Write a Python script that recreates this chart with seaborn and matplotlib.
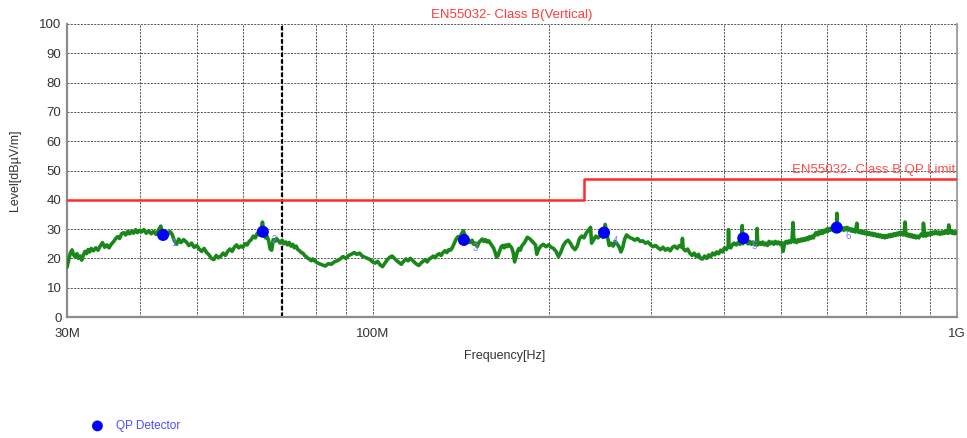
import matplotlib
matplotlib.use("Agg")
import matplotlib.pyplot as plt
import matplotlib.ticker as mticker
import seaborn as sns
import pandas as pd

freq_mhz = [
    30.0, 30.2, 30.4, 30.6, 30.8, 31.0, 31.2, 31.4, 31.6, 31.8, 32.0, 32.2, 32.4, 32.6, 32.8,
    33.0, 33.3, 33.6, 33.9, 34.2, 34.5, 34.8, 35.1, 35.4, 35.7, 36.0, 36.3, 36.6, 36.9, 37.2,
    37.5, 37.8, 38.1, 38.4, 38.7, 39.0, 39.3, 39.6, 39.9, 40.2, 40.6, 41.0, 41.4, 41.8, 42.2,
    42.6, 43.0, 43.4, 43.8, 44.2, 44.6, 45.0, 45.4, 45.8, 46.2, 46.6, 47.0, 47.5, 48.0, 48.5,
    49.0, 49.5, 50.0, 50.5, 51.0, 51.5, 52.0, 52.5, 53.0, 53.5, 54.0, 54.5, 55.0, 55.5, 56.0,
    56.5, 57.0, 57.5, 58.0, 58.5, 59.0, 59.5, 60.0, 60.5, 61.0, 61.5, 62.0, 62.5, 63.0, 63.5,
    64.0, 64.5, 64.8, 65.2, 65.6, 66.0, 66.4, 66.8, 67.2, 67.6, 68.0, 68.5, 69.0, 69.5, 70.0,
    70.5, 71.0, 71.5, 72.0, 72.5, 73.0, 73.5, 74.0, 74.5, 75.0, 75.5, 76.0, 76.5, 77.0, 77.5,
    78.0, 78.5, 79.0, 80.0, 81.0, 82.0, 83.0, 84.0, 85.0, 86.0, 87.0, 88.0, 89.0, 90.0, 91.0,
    92.0, 93.0, 94.0, 95.0, 96.0, 97.0, 98.0, 99.0, 100.0, 101.0, 102.0, 103.0, 104.0, 105.0,
    106.0, 107.0, 108.0, 109.0, 110.0, 111.0, 112.0, 113.0, 114.0, 115.0, 116.0, 117.0, 118.0,
    119.0, 120.0, 121.0, 122.0, 123.0, 124.0, 125.0, 126.0, 127.0, 128.0, 129.0, 130.0, 131.0,
    132.0, 133.0, 134.0, 135.0, 136.0, 137.0, 138.0, 139.0, 140.0, 141.0, 142.0, 143.0, 144.0,
    145.0, 146.0, 147.0, 148.0, 149.0, 150.0, 151.0, 152.0, 153.0, 154.0, 155.0, 156.0, 157.0,
    158.0, 159.0, 160.0, 161.0, 162.0, 163.0, 164.0, 165.0, 166.0, 167.0, 168.0, 169.0, 170.0,
    171.0, 172.0, 173.0, 174.0, 175.0, 176.0, 177.0, 178.0, 179.0, 180.0, 182.0, 184.0, 186.0,
    188.0, 190.0, 191.0, 192.0, 194.0, 196.0, 198.0, 200.0, 202.0, 204.0, 206.0, 208.0, 210.0,
    212.0, 214.0, 216.0, 218.0, 220.0, 222.0, 224.0, 226.0, 228.0, 230.0, 232.0, 234.0, 236.0,
    237.0, 239.0, 241.0, 243.0, 246.0, 248.0, 250.0, 252.0, 254.0, 256.0, 258.0, 260.0, 262.0,
    264.0, 266.0, 268.0, 270.0, 272.0, 275.0, 278.0, 281.0, 284.0, 287.0, 290.0, 293.0, 296.0,
    299.0, 302.0, 305.0, 308.0, 311.0, 314.0, 317.0, 320.0, 323.0, 326.0, 329.0, 332.0, 335.0,
    338.0, 339.0, 340.0, 343.0, 346.0, 349.0, 352.0, 355.0, 358.0, 361.0, 364.0, 367.0, 370.0,
    373.0, 376.0, 379.0, 382.0, 385.0, 388.0, 391.0, 394.0, 397.0, 400.0, 403.0, 406.0, 406.5,
    407.0, 410.0, 413.0, 416.0, 419.0, 422.0, 425.0, 428.0, 429.0, 430.0, 433.0, 436.0, 439.0,
    442.0, 445.0, 448.0, 451.0, 454.0, 455.0, 456.0, 459.0, 462.0, 465.0, 468.0, 471.0, 474.0,
    477.0, 480.0, 483.0, 486.0, 489.0, 492.0, 495.0, 498.0, 501.0, 504.0, 507.0, 510.0, 513.0,
    516.0, 519.0, 522.0, 524.0, 526.0, 529.0, 532.0, 535.0, 538.0, 541.0, 544.0, 547.0, 550.0,
    553.0, 556.0, 559.0, 562.0, 565.0, 568.0, 571.0, 574.0, 577.0, 580.0, 583.0, 586.0, 589.0,
    592.0, 595.0, 598.0, 601.0, 604.0, 607.0, 610.0, 613.0, 616.0, 619.0, 622.0, 623.0, 625.0,
    628.0, 631.0, 634.0, 637.0, 640.0, 643.0, 646.0, 649.0, 652.0, 655.0, 658.0, 661.0, 664.0,
    667.0, 670.0, 674.0, 676.0, 680.0, 684.0, 688.0, 692.0, 696.0, 700.0, 704.0, 708.0, 712.0,
    716.0, 720.0, 724.0, 728.0, 732.0, 736.0, 740.0, 744.0, 748.0, 752.0, 756.0, 760.0, 764.0,
    768.0, 772.0, 776.0, 780.0, 784.0, 788.0, 792.0, 796.0, 800.0, 804.0, 808.0, 812.0, 815.0,
    818.0, 822.0, 826.0, 830.0, 834.0, 838.0, 842.0, 846.0, 850.0, 855.0, 860.0, 865.0, 870.0,
    875.0, 876.0, 880.0, 885.0, 890.0, 895.0, 900.0, 905.0, 910.0, 915.0, 920.0, 925.0, 930.0,
    935.0, 940.0, 945.0, 950.0, 955.0, 960.0, 965.0, 968.0, 970.0, 975.0, 980.0, 985.0, 990.0,
    995.0, 1000.0,
]
level_db = [
    17.0, 19.5, 21.8, 22.9, 21.2, 20.4, 21.6, 20.0, 20.8, 19.4, 21.2, 22.4, 21.6, 23.0, 22.2,
    23.4, 22.6, 23.6, 22.8, 24.2, 25.4, 23.8, 24.6, 23.6, 24.8, 25.6, 26.6, 27.4, 26.8, 28.4,
    28.8, 28.0, 29.2, 28.4, 29.4, 28.6, 29.8, 28.8, 29.6, 29.0, 29.8, 28.6, 29.4, 28.4, 29.2,
    28.2, 29.6, 31.0, 28.4, 29.4, 28.0, 29.2, 28.2, 26.0, 24.8, 26.6, 25.4, 26.4, 25.6, 24.4,
    25.2, 23.8, 24.4, 23.2, 22.4, 23.4, 22.0, 21.2, 20.0, 19.6, 21.0, 20.2, 20.8, 21.8, 21.0,
    22.4, 23.2, 22.4, 23.8, 24.6, 23.6, 24.2, 23.8, 25.0, 24.6, 25.8, 26.4, 27.6, 27.0, 28.6,
    28.0, 29.6, 32.4, 28.2, 27.0, 27.6, 26.0, 23.2, 22.8, 26.4, 25.8, 26.8, 26.0, 25.2, 26.2,
    25.0, 25.6, 24.6, 25.4, 24.2, 24.8, 23.6, 24.2, 23.0, 22.6, 22.0, 21.8, 21.0, 20.6, 20.0,
    19.8, 19.2, 19.8, 18.8, 18.2, 17.8, 17.4, 18.2, 18.0, 18.8, 19.2, 19.8, 20.6, 20.0, 21.0,
    21.4, 22.0, 21.4, 21.8, 20.8, 20.4, 20.0, 19.6, 18.8, 18.4, 19.0, 17.8, 17.2, 18.4,
    19.6, 20.4, 20.8, 20.0, 19.2, 18.6, 18.0, 19.0, 19.8, 19.2, 20.0, 19.4, 18.6,
    18.0, 17.6, 18.4, 19.0, 19.6, 18.8, 19.8, 20.2, 20.8, 20.2, 21.2, 21.6, 21.0,
    22.0, 22.6, 22.0, 23.0, 22.8, 23.8, 25.2, 26.6, 27.4, 26.8, 28.4, 29.4, 27.8,
    27.0, 26.0, 25.4, 26.2, 24.8, 25.2, 24.0, 25.4, 26.0, 26.6, 25.8, 26.4, 25.6,
    26.0, 25.2, 24.4, 23.6, 22.2, 20.4, 21.0, 22.6, 24.0, 24.4, 23.6, 24.6, 24.0,
    24.8, 24.2, 23.6, 22.0, 18.8, 20.6, 22.4, 23.4, 22.8, 24.2, 25.4, 27.2, 26.6,
    25.6, 24.6, 21.4, 22.8, 24.2, 24.8, 24.0, 24.6, 23.8, 23.4, 22.4, 20.6, 22.2,
    24.4, 25.6, 26.2, 25.2, 23.8, 23.0, 24.2, 26.8, 27.6, 27.0, 28.6, 29.6, 30.6,
    25.2, 26.4, 27.6, 27.0, 28.0, 27.2, 31.6, 28.0, 24.4, 25.2, 24.2, 25.8, 25.0,
    24.0, 22.2, 23.8, 26.6, 28.0, 27.2, 26.8, 26.2, 26.8, 25.8, 26.0, 25.2, 25.6,
    24.6, 24.0, 24.4, 23.6, 23.0, 23.8, 22.8, 23.4, 22.6, 23.8, 24.2, 23.4, 24.4,
    23.8, 26.8, 23.4, 22.6, 23.2, 21.8, 21.0, 21.8, 20.6, 21.4, 20.0, 19.8, 20.8,
    20.0, 21.2, 20.6, 21.8, 21.2, 22.2, 21.6, 22.8, 22.2, 23.6, 23.0, 24.2, 29.8,
    24.0, 23.6, 24.8, 25.2, 24.6, 25.4, 24.8, 25.8, 31.2, 25.0, 26.2, 25.6, 25.0,
    25.8, 24.8, 25.6, 24.6, 25.4, 30.2, 24.6, 25.4, 24.8, 25.6, 24.6, 25.2, 24.4,
    25.8, 25.0, 25.6, 24.8, 25.8, 25.0, 25.6, 24.8, 25.4, 22.4, 25.2, 25.8, 25.2,
    26.0, 25.4, 26.2, 32.2, 25.6, 26.2, 25.4, 26.4, 25.8, 26.6, 26.0, 26.8, 26.2,
    27.0, 26.4, 27.4, 26.8, 27.6, 27.0, 28.2, 28.8, 28.0, 29.0, 28.4, 29.4, 28.6,
    29.6, 29.0, 30.0, 29.2, 30.2, 29.6, 30.4, 29.8, 30.6, 30.0, 30.8, 35.4, 30.2,
    29.4, 30.6, 29.8, 30.4, 29.6, 30.4, 29.8, 30.6, 29.6, 30.2, 29.4, 30.0, 29.2,
    29.8, 29.0, 32.0, 29.4, 28.8, 29.4, 28.6, 29.2, 28.4, 29.0, 28.2, 28.8, 28.0,
    28.6, 27.8, 28.4, 27.6, 28.2, 27.4, 28.0, 27.2, 27.8, 27.0, 27.8, 27.2, 28.0,
    27.4, 28.2, 27.6, 28.4, 27.8, 28.6, 28.0, 28.8, 28.2, 28.8, 28.0, 28.6, 32.4,
    27.8, 28.4, 27.6, 28.2, 27.4, 28.0, 27.2, 27.8, 27.0, 27.6, 27.0, 27.8, 28.4,
    27.6, 32.0, 28.2, 27.6, 28.6, 28.0, 28.8, 28.2, 29.0, 28.4, 29.2, 28.4, 29.0,
    28.2, 29.0, 28.4, 29.2, 28.6, 29.4, 28.6, 31.4, 28.8, 29.4, 28.6, 29.2, 28.4,
    29.0, 28.6,
]

# limit line EN55032 class B (3 m)
limit_mhz = [30.0, 230.0, 230.0, 1000.0]
limit_db = [40.0, 40.0, 47.0, 47.0]

# QP detector results
qp_mhz = [43.8, 64.9, 143.3, 248.9, 430.8, 622.6]
qp_db = [28.0, 29.1, 26.3, 28.8, 26.9, 30.5]
qp_tags = ["1", "2", "3", "4", "5", "6"]

minor_mhz = [40, 50, 60, 70, 80, 90, 200, 300, 400, 500, 600, 700, 800, 900]
major_mhz = [30, 100, 1000]
major_labels = ["30M", "100M", "1G"]

sns.set_style("white")
plt.rcParams['font.family'] = ['Liberation Sans', 'DejaVu Sans']

fig = plt.figure(figsize=(9.67, 4.38), dpi=100)
ax = fig.add_axes([67 / 967, 1 - 317 / 438, 890 / 967, 293 / 438])

trace = pd.DataFrame({"f": freq_mhz, "lvl": level_db})
sns.lineplot(data=trace, x="f", y="lvl", estimator=None, sort=False,
             color="#1a871a", linewidth=2.6, ax=ax, zorder=3)
sns.lineplot(x=limit_mhz, y=limit_db, estimator=None, sort=False,
             color="#ff2a2a", linewidth=1.8, ax=ax, zorder=4)
sns.scatterplot(x=qp_mhz, y=qp_db, color="#0000ff", s=75, edgecolor="none",
                ax=ax, zorder=5, label="QP Detector")
for f, v, t in zip(qp_mhz, qp_db, qp_tags):
    ax.annotate(t, (f, v), xytext=(6, -8), textcoords="offset points",
                color="#7a7aff", fontsize=7)

ax.set_xscale("log")
ax.set_xlim(30, 1000)
ax.set_ylim(0, 100)
ax.xaxis.set_major_locator(mticker.FixedLocator(major_mhz))
ax.xaxis.set_major_formatter(mticker.FixedFormatter(major_labels))
ax.xaxis.set_minor_locator(mticker.FixedLocator(minor_mhz))
ax.xaxis.set_minor_formatter(mticker.NullFormatter())
ax.set_yticks(range(0, 101, 10))

ax.grid(True, which="both", color="#3a3a3a", linestyle=(0, (2.5, 1.5)), linewidth=0.6)
ax.axvline(70, color="black", linestyle=(0, (2, 1)), linewidth=1.6, zorder=2)
ax.tick_params(axis="both", length=0, labelsize=9.5, labelcolor="#333333", pad=4)
ax.tick_params(axis="x", pad=8)

for side in ["left", "bottom"]:
    ax.spines[side].set_color("#8c8c8c")
    ax.spines[side].set_linewidth(1.6)
ax.spines["right"].set_color("#9a9a9a")
ax.spines["right"].set_linewidth(1.3)
ax.spines["top"].set_visible(False)

ax.set_xlabel("")
ax.set_ylabel("")
ax.set_title("EN55032- Class B(Vertical)", color="#ff3b3b", fontsize=9.5, pad=4)
ax.text(995, 50, "EN55032- Class B QP Limit", color="#ff4d4d", fontsize=9.5,
        ha="right", va="center", zorder=6)

fig.text(505 / 967, 1 - 356 / 438, "Frequency[Hz]", ha="center", va="center",
         fontsize=9, color="#333333")
fig.text(15 / 967, 1 - 170 / 438, "Level[dB\u00b5V/m]", ha="center", va="center",
         rotation=90, fontsize=9, color="#333333")

leg = ax.legend(loc="center left", bbox_to_anchor=(75 / 967, 1 - 426 / 438),
                bbox_transform=fig.transFigure, frameon=False, fontsize=8.5,
                handletextpad=0.6, markerscale=0.9, labelcolor="#4d4dff")

fig.savefig("out.png", dpi=100)
